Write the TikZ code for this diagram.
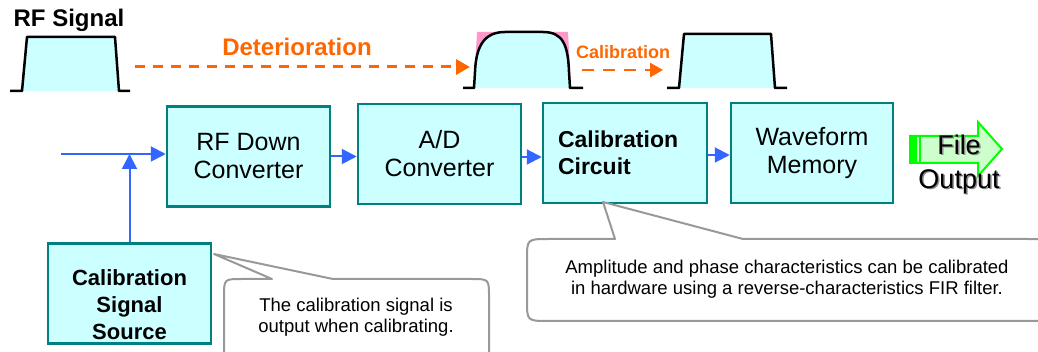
\documentclass[tikz,border=0pt]{standalone}
\usepackage{fontspec}
\setmainfont{Liberation Sans}
\usetikzlibrary{arrows.meta}
\definecolor{cyanfill}{HTML}{CCFFFF}
\definecolor{tealb}{HTML}{008080}
\definecolor{org}{HTML}{FF6600}
\definecolor{blu}{HTML}{3366FF}
\definecolor{gry}{HTML}{999999}
\definecolor{grn}{HTML}{00FF00}
\definecolor{lgrn}{HTML}{CCFFCC}
\definecolor{pnk}{HTML}{FF99CC}
\begin{document}
\begin{tikzpicture}[x=1pt,y=-1pt,
  block/.style={draw=tealb, fill=cyanfill, line width=2.5pt, minimum width=163pt, minimum height=100pt, inner sep=0pt, align=center, font=\fontsize{25}{28}\selectfont},
  flow/.style={draw=blu, line width=2pt, -{Triangle[length=15pt,width=15pt]}},
  pulse/.style={line width=2.5pt, line join=round},
  degr/.style={draw=org, line width=3pt, dash pattern=on 10pt off 8pt, -{Triangle[length=14pt,width=15pt]}},
  callout/.style={draw=gry, fill=white, line width=2pt, line join=round},
  calltext/.style={align=center, inner sep=0pt},
  big/.style={font=\fontsize{24}{28}\selectfont\bfseries},
]
\useasboundingbox (0,0) rectangle (1038,352);
\clip (0,0) rectangle (1038,352);

% ---- top row: signals ----
\node[big, anchor=center] (rfsig) at (69,20) {RF Signal};
\fill[cyanfill] (22,91) -- (27,37) -- (115,37) -- (119,91) -- cycle;
\draw[pulse] (10,91) -- (22,91) -- (27,37) -- (115,37) -- (119,91) -- (130,91);

\coordinate (d1) at (135,67);
\coordinate (d2) at (470,67);
\draw[degr] (d1) -- (d2);
\node[big, text=org] (deter) at (297,47) {Deterioration};

\fill[pnk] (474,88) -- (477,32) -- (568,32) -- (571,88) -- cycle;
\fill[cyanfill] (474,88) -- (475,72) .. controls (476,45) and (485,32) .. (505,32) -- (543,32) .. controls (563,32) and (568,45) .. (569,72) -- (570,88) -- cycle;
\draw[pulse] (463,88) -- (474,88) -- (475,72) .. controls (476,45) and (485,32) .. (505,32) -- (543,32) .. controls (563,32) and (568,45) .. (569,72) -- (570,88) -- (583,88);

\coordinate (c1) at (582,70);
\coordinate (c2) at (663,70);
\draw[degr, line width=2.5pt, dash pattern=on 12pt off 9pt, -{Triangle[length=13pt,width=14pt]}] (c1) -- (c2);
\node[font=\fontsize{18}{20}\selectfont\bfseries, text=org] (calib) at (623,52) {Calibration};

\fill[cyanfill] (679,88) -- (684,34) -- (771,34) -- (775,88) -- cycle;
\draw[pulse] (667,88) -- (679,88) -- (684,34) -- (771,34) -- (775,88) -- (787,88);

% ---- blocks ----
\node[block] (rf) at (248.5,156.5) {RF Down\\Converter};
\node[block] (ad) at (439.5,154) {A/D\\Converter};
\node[block, minimum width=164pt, text width=134pt, inner xsep=15pt, align=left, font=\fontsize{23}{27}\selectfont\bfseries] (cal) at (625,153) {Calibration\\Circuit\\[4pt]};
\node[block, minimum width=162pt] (wave) at (812,153) {Waveform\\Memory};
\node[block] (cs) at (129.5,293.5) {};
\node[font=\fontsize{22}{27}\selectfont\bfseries, align=center] (cstext) at (129.5,305) {Calibration\\Signal\\Source};

% ---- flow arrows ----
\coordinate (in) at (61,154);
\draw[flow] (in) -- (in -| rf.west);
\draw[flow] (cs.north) -- (cs.north |- in);
\draw[flow] (rf.east) -- (rf.east -| ad.west);
\draw[flow] (ad.east) ++(0,3) coordinate (ade) -- (ade -| cal.west);
\draw[flow] (cal.east) ++(0,2) coordinate (cale) -- (cale -| wave.west);

% ---- file output arrow ----
\fill[lgrn] (910,136) -- (978,136) -- (978,122) -- (1002,149) -- (978,176) -- (978,163) -- (910,163) -- cycle;
\draw[grn, line width=2pt, line join=miter] (910,136) -- (978,136) -- (978,122) -- (1002,149) -- (978,176) -- (978,163) -- (910,163) -- cycle;
\fill[grn] (910,136) rectangle (917,163);
\fill[grn] (918.5,136) rectangle (920.5,163);
\node[font=\fontsize{27}{34}\selectfont, align=center, text=black!45] (fileshadow) at (960.5,166) {File\\Output};
\node[font=\fontsize{27}{34}\selectfont, align=center] (file) at (959,164.5) {File\\Output};

% ---- callouts ----
\draw[callout] (272,279) -- (214,254) -- (333,279) -- (471,279) .. controls (489,279) .. (489,297) -- (489,354) .. controls (489,372) .. (471,372) -- (242,372) .. controls (224,372) .. (224,354) -- (224,297) .. controls (224,279) .. (242,279) -- cycle;
\node[calltext, font=\fontsize{18.5}{21}\selectfont] (t1) at (356,317.5) {The calibration signal is\\output when calibrating.};

\draw[callout] (615,239) -- (603,202) -- (743,239) -- (1026,239) .. controls (1048,239) .. (1048,259) -- (1048,301) .. controls (1048,321) .. (1026,321) -- (549,321) .. controls (527,321) .. (527,301) -- (527,259) .. controls (527,239) .. (549,239) -- cycle;
\node[calltext, font=\fontsize{18.5}{21}\selectfont] (t2) at (787,279.5) {Amplitude and phase characteristics can be calibrated\\in hardware using a reverse-characteristics FIR filter.};
\end{tikzpicture}
\end{document}
